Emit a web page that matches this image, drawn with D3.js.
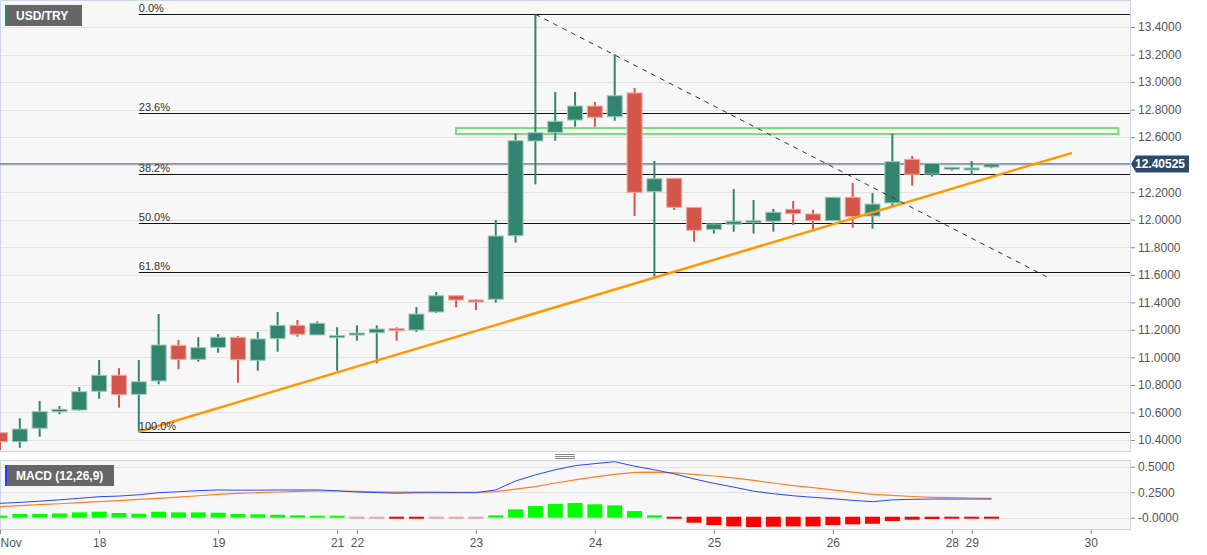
<!DOCTYPE html>
<html>
<head>
<meta charset="utf-8">
<script src="https://cdn.jsdelivr.net/npm/d3@7"></script>
<style>
  body { margin: 0; background: #fff; }
  svg { display: block; font-family: "Liberation Sans", Arial, sans-serif; }
</style>
</head>
<body>
<div id="chart"></div>
<script>
// USD/TRY 4h candles, Nov 17 - Nov 29
const opens  = [10.453,10.388,10.485,10.606,10.618,10.754,10.870,10.732,10.829,11.088,10.986,11.073,11.146,10.979,11.136,11.233,11.163,11.148,11.165,11.179,11.209,11.199,11.330,11.448,11.417,11.422,11.884,12.572,12.635,12.724,12.826,12.748,12.921,12.204,12.301,12.090,11.930,11.967,11.986,11.989,12.076,12.042,11.993,12.163,12.027,12.122,12.439,12.332,12.374,12.371,12.383];
const highs  = [10.455,10.558,10.683,10.647,10.785,10.981,10.921,10.981,11.315,11.126,11.148,11.170,11.156,11.185,11.330,11.272,11.262,11.219,11.233,11.233,11.219,11.366,11.475,11.448,11.424,11.998,12.628,13.492,12.928,12.928,12.855,13.202,12.957,12.427,12.301,12.090,11.978,12.223,12.143,12.078,12.136,12.071,12.163,12.267,12.194,12.628,12.463,12.410,12.381,12.427,12.410];
const lows   = [10.327,10.344,10.424,10.587,10.613,10.700,10.635,10.460,10.805,10.914,10.969,11.034,10.816,10.903,11.041,11.150,11.163,10.903,11.121,10.957,11.121,11.185,11.323,11.364,11.344,11.397,11.833,12.257,12.574,12.676,12.676,12.719,12.027,11.579,12.071,11.840,11.899,11.913,11.899,11.913,11.962,11.923,11.993,11.942,11.935,12.090,12.247,12.313,12.356,12.325,12.374];
const closes = [10.388,10.480,10.606,10.623,10.751,10.870,10.729,10.823,11.090,10.986,11.071,11.146,10.983,11.134,11.233,11.168,11.248,11.158,11.177,11.206,11.199,11.315,11.448,11.417,11.408,11.882,12.574,12.632,12.715,12.826,12.744,12.901,12.199,12.298,12.090,11.923,11.969,11.989,11.993,12.054,12.044,11.993,12.163,12.022,12.114,12.422,12.330,12.410,12.381,12.376,12.40525];

// MACD (12,26,9)
const macdLine   = [0.141,0.150,0.162,0.175,0.190,0.206,0.212,0.225,0.245,0.255,0.265,0.272,0.270,0.270,0.272,0.272,0.272,0.264,0.252,0.246,0.240,0.244,0.245,0.245,0.245,0.272,0.360,0.420,0.470,0.510,0.530,0.549,0.505,0.470,0.430,0.380,0.337,0.300,0.260,0.235,0.215,0.200,0.186,0.170,0.157,0.175,0.180,0.183,0.183,0.183,0.183];
const signalLine = [0.108,0.118,0.128,0.137,0.147,0.157,0.168,0.180,0.190,0.202,0.215,0.229,0.238,0.245,0.252,0.258,0.262,0.262,0.258,0.254,0.250,0.250,0.250,0.249,0.249,0.255,0.280,0.305,0.340,0.370,0.400,0.425,0.445,0.447,0.440,0.425,0.409,0.390,0.365,0.340,0.315,0.295,0.272,0.250,0.229,0.218,0.208,0.200,0.196,0.193,0.190];
const histogram  = [0.020,0.036,0.036,0.042,0.052,0.059,0.046,0.039,0.059,0.052,0.052,0.049,0.036,0.033,0.029,0.023,0.016,0.010,-0.005,-0.010,-0.020,-0.020,-0.008,-0.006,-0.010,0.023,0.082,0.114,0.134,0.144,0.131,0.121,0.065,0.023,-0.020,-0.059,-0.082,-0.095,-0.101,-0.098,-0.095,-0.095,-0.082,-0.075,-0.069,-0.042,-0.029,-0.023,-0.016,-0.016,-0.013];

// axis labels
const priceTicks = [10.4,10.6,10.8,11.0,11.2,11.4,11.6,11.8,12.0,12.2,12.4,12.6,12.8,13.0,13.2,13.4];
const macdTicks = [0, 0.25, 0.5];
const dayTickIndex = [0, 5, 11, 17, 18, 24, 30, 36, 42, 48, 49, 55];
const dayTickLabels = ["Nov", "18", "19", "21", "22", "23", "24", "25", "26", "28", "29", "30"];

// drawings
const fibHigh = 13.492, fibLow = 10.46, fibStart = 7;
const fibLevels = [0, 0.236, 0.382, 0.5, 0.618, 1];
const fibLabels = ["0.0%", "23.6%", "38.2%", "50.0%", "61.8%", "100.0%"];
const trendUp = [[7, 10.46], [54.06, 12.486]];
const trendDown = [[27, 13.492], [52.78, 11.586]];
const zone = { from: 23, to: 56.4, top: 12.666, bottom: 12.623 };
const lastPrice = 12.40525;

document.addEventListener('DOMContentLoaded', function() {
    const width = 1207, height = 555;
    const plotRight = 1130;
    const mainTop = 0, mainBottom = 451;
    const macdTop = 460, macdBottom = 529;

    const svg = d3.select("#chart").append("svg")
        .attr("width", width)
        .attr("height", height);

    const x = d3.scaleLinear().domain([0, 50]).range([0, 991.5]);
    const y = d3.scaleLinear().domain([10.4, 13.4]).range([440, 27]);
    const ym = d3.scaleLinear().domain([0, 0.5]).range([517.7, 466.7]);

    svg.append("defs").append("clipPath").attr("id", "clipMain")
        .append("rect").attr("x", 0).attr("y", mainTop).attr("width", plotRight).attr("height", mainBottom - mainTop);
    svg.select("defs").append("clipPath").attr("id", "clipMacd")
        .append("rect").attr("x", 0).attr("y", macdTop).attr("width", plotRight).attr("height", macdBottom - macdTop);

    // panel backgrounds
    svg.append("rect").attr("x", 0.5).attr("y", mainTop + 0.5)
        .attr("width", plotRight).attr("height", mainBottom - mainTop)
        .style("fill", "#f7f7f7").style("stroke", "#cfd6e8");
    svg.append("rect").attr("x", 0.5).attr("y", macdTop + 0.5)
        .attr("width", plotRight).attr("height", macdBottom - macdTop)
        .style("fill", "#f7f7f7").style("stroke", "#cfd6e8");

    // gridlines
    svg.append("g").selectAll("line").data(priceTicks).enter().append("line")
        .attr("x1", 1).attr("x2", plotRight)
        .attr("y1", d => Math.round(y(d)) + 0.5).attr("y2", d => Math.round(y(d)) + 0.5)
        .style("stroke", "#e3e3e3");
    svg.append("g").selectAll("line").data(macdTicks).enter().append("line")
        .attr("x1", 1).attr("x2", plotRight)
        .attr("y1", d => Math.round(ym(d)) + 0.5).attr("y2", d => Math.round(ym(d)) + 0.5)
        .style("stroke", "#e3e3e3");

    // right axes (the price tag hides the tick it sits on)
    const visiblePriceTicks = priceTicks.filter(d => Math.abs(y(d) - y(lastPrice)) > 10);
    const yAxis = svg.append("g").attr("transform", `translate(${plotRight + 1},0)`)
        .call(d3.axisRight(y).tickValues(visiblePriceTicks).tickFormat(d3.format(".4f")).tickSize(4).tickPadding(3));
    const mAxis = svg.append("g").attr("transform", `translate(${plotRight + 1},0)`)
        .call(d3.axisRight(ym).tickValues(macdTicks).tickFormat(d => d === 0 ? "-0.0000" : d3.format(".4f")(d)).tickSize(4).tickPadding(3));
    [yAxis, mAxis].forEach(g => {
        g.select(".domain").remove();
        g.selectAll("line").style("stroke", "#888");
        g.selectAll("text").style("font-size", "12px").style("fill", "#555").style("font-family", "'Liberation Sans', Arial, sans-serif");
    });

    // bottom axis
    const xAxis = svg.append("g").attr("transform", `translate(0,${macdBottom + 1})`)
        .call(d3.axisBottom(x).tickValues(dayTickIndex).tickFormat((d, i) => dayTickLabels[i]).tickSize(4).tickPadding(4));
    xAxis.select(".domain").remove();
    xAxis.selectAll("line").style("stroke", "#888");
    xAxis.selectAll("text").style("font-size", "12px").style("fill", "#555").style("font-family", "'Liberation Sans', Arial, sans-serif");
    xAxis.selectAll("text").filter((d, i) => i === 0).attr("text-anchor", "start").attr("x", 0);

    const main = svg.append("g").attr("clip-path", "url(#clipMain)");

    // fibonacci levels
    const fibVal = f => fibHigh - (fibHigh - fibLow) * f;
    main.selectAll(".fib").data(fibLevels).enter().append("line")
        .attr("class", "fib")
        .attr("x1", x(fibStart)).attr("x2", plotRight)
        .attr("y1", d => Math.round(y(fibVal(d))) + 0.5).attr("y2", d => Math.round(y(fibVal(d))) + 0.5)
        .style("stroke", "#111").style("stroke-width", 1.2);

    // current price line
    main.append("line")
        .attr("x1", 0).attr("x2", plotRight)
        .attr("y1", y(lastPrice)).attr("y2", y(lastPrice))
        .style("stroke", "#2d4a6d").style("stroke-width", 1);

    // resistance zone
    main.append("rect")
        .attr("x", x(zone.from)).attr("y", y(zone.top))
        .attr("width", x(zone.to) - x(zone.from)).attr("height", y(zone.bottom) - y(zone.top))
        .style("fill", "none").style("stroke", "#78dd78").style("stroke-width", 2);

    // candles
    const idx = d3.range(opens.length);
    const up = i => closes[i] >= opens[i];
    const candle = main.selectAll(".candle").data(idx).enter().append("g").attr("class", "candle");
    candle.append("line")
        .attr("x1", i => x(i)).attr("x2", i => x(i))
        .attr("y1", i => y(highs[i])).attr("y2", i => y(lows[i]))
        .style("stroke", i => up(i) ? "#33846f" : "#d4564a").style("stroke-width", 2);
    candle.append("rect")
        .attr("x", i => x(i) - 7.5)
        .attr("y", i => y(Math.max(opens[i], closes[i])))
        .attr("width", 15)
        .attr("height", i => Math.max(2, Math.abs(y(opens[i]) - y(closes[i]))))
        .style("fill", i => up(i) ? "#33846f" : "#d4564a")
        .style("stroke", i => up(i) ? "#9fc8be" : "#efaaa2")
        .style("stroke-width", 1);

    // trend lines
    main.append("line")
        .attr("x1", x(trendUp[0][0])).attr("y1", y(trendUp[0][1]))
        .attr("x2", x(trendUp[1][0])).attr("y2", y(trendUp[1][1]))
        .style("stroke", "#ff9900").style("stroke-width", 2.5);
    main.append("line")
        .attr("x1", x(trendDown[0][0])).attr("y1", y(trendDown[0][1]))
        .attr("x2", x(trendDown[1][0])).attr("y2", y(trendDown[1][1]))
        .style("stroke", "#333").style("stroke-width", 1).style("stroke-dasharray", "5,5");

    // fib labels
    main.selectAll(".fibLabel").data(fibLevels).enter().append("text")
        .attr("class", "fibLabel")
        .attr("x", x(fibStart))
        .attr("y", d => Math.round(y(fibVal(d))) - 2)
        .text((d, i) => fibLabels[i])
        .style("font-size", "11px").style("fill", "#333");

    // price tag
    const py = y(lastPrice);
    svg.append("path")
        .attr("d", `M${plotRight + 1},${py} L${plotRight + 6},${py - 8.5} H1189 V${py + 8.5} H${plotRight + 6} Z`)
        .style("fill", "#2d4a6d");
    svg.append("text")
        .attr("x", 1160).attr("y", py + 4.5)
        .attr("text-anchor", "middle")
        .text(lastPrice.toFixed(5))
        .style("font-size", "12px").style("font-weight", "bold").style("fill", "#fff");

    // MACD panel
    const macd = svg.append("g").attr("clip-path", "url(#clipMacd)");
    macd.selectAll(".hist").data(idx).enter().append("rect")
        .attr("class", "hist")
        .attr("x", i => x(i) - 7.5)
        .attr("width", 15)
        .attr("y", i => histogram[i] >= 0 ? Math.min(ym(histogram[i]), ym(0) - 2) : ym(0) - 1)
        .attr("height", i => Math.max(2, Math.abs(ym(histogram[i]) - ym(0))))
        .style("fill", i => histogram[i] >= 0 ? "#00ff00" : (histogram[i] > -0.012 ? "#f4a3a3" : "#ff0000"));

    const lineGen = arr => d3.line().x((d, i) => x(i)).y(d => ym(d))(arr);
    macd.append("path").attr("d", lineGen(signalLine))
        .style("fill", "none").style("stroke", "#ff7f27").style("stroke-width", 1.2);
    macd.append("path").attr("d", lineGen(macdLine))
        .style("fill", "none").style("stroke", "#2646ff").style("stroke-width", 1);

    // panel divider handle
    [454.5, 456.5, 458.5].forEach(hy => {
        svg.append("line").attr("x1", 555).attr("x2", 575).attr("y1", hy).attr("y2", hy)
            .style("stroke", "#888").style("stroke-width", 1);
    });

    // panel titles
    function title(ty, w, label, accent) {
        svg.append("rect").attr("x", 5).attr("y", ty).attr("width", w).attr("height", 21).style("fill", "#666");
        svg.append("rect").attr("x", 5).attr("y", ty).attr("width", 2).attr("height", 21).style("fill", accent);
        svg.append("text").attr("x", 16).attr("y", ty + 15)
            .text(label)
            .style("font-size", "12px").style("font-weight", "bold").style("fill", "#fff");
    }
    title(5, 77, "USD/TRY", "#2e8b6e");
    title(465, 109, "MACD (12,26,9)", "#1f3dff");
});
</script>
</body>
</html>
